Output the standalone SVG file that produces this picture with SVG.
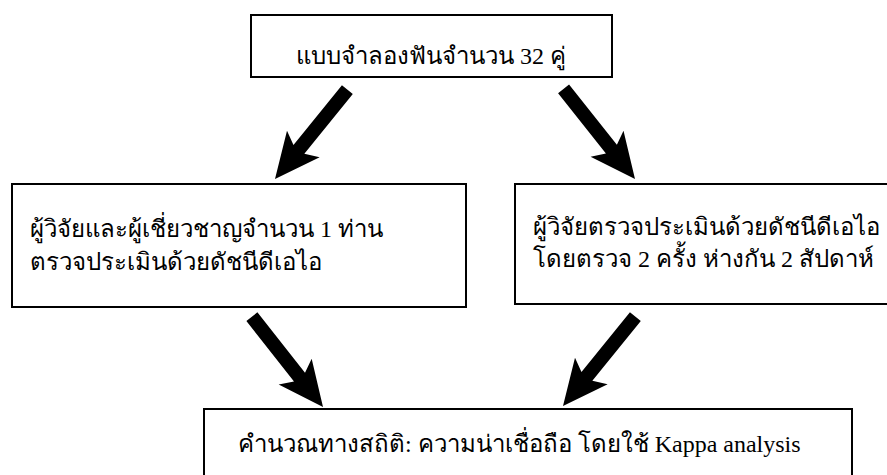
<svg xmlns="http://www.w3.org/2000/svg" xmlns:xlink="http://www.w3.org/1999/xlink" width="887" height="475" viewBox="0 0 887 475">
<style>
.box{fill:#fff;stroke:#000;stroke-width:2}
.t{font-family:"Liberation Serif","DejaVu Serif",serif;font-size:24px;fill:#000}
</style>
<defs>
<polygon id="arr" points="-115,-7 -38,-7 -45,-21 0,0 -45,21 -38,7 -115,7" fill="#000"/>
</defs>
<rect width="887" height="475" fill="#fff"/>
<g id="n1">
<rect class="box" x="251" y="15" width="361" height="62"/>
<text class="t" x="431" y="64" text-anchor="middle">แบบจำลองฟันจำนวน 32 คู่</text>
</g>
<g id="n2">
<rect class="box" x="12" y="184" width="454" height="123"/>
<text class="t" x="30" y="237">ผู้วิจัยและผู้เชี่ยวชาญจำนวน 1 ท่าน</text>
<text class="t" x="30" y="270">ตรวจประเมินด้วยดัชนีดีเอไอ</text>
</g>
<g id="n3">
<rect class="box" x="515" y="184" width="380" height="120"/>
<text class="t" x="533" y="235">ผู้วิจัยตรวจประเมินด้วยดัชนีดีเอไอ</text>
<text class="t" x="533" y="267">โดยตรวจ 2 ครั้ง ห่างกัน 2 สัปดาห์</text>
</g>
<g id="n4">
<rect class="box" x="204" y="409" width="648" height="80"/>
<text class="t" x="238" y="452">คำนวณทางสถิติ: ความน่าเชื่อถือ โดยใช้ Kappa analysis</text>
</g>
<g id="connectors">
<use xlink:href="#arr" transform="translate(275,179) rotate(129)"/>
<use xlink:href="#arr" transform="translate(635,179) rotate(51.6)"/>
<use xlink:href="#arr" transform="translate(323,407) rotate(51.8)"/>
<use xlink:href="#arr" transform="translate(563,406) rotate(129)"/>
</g>
</svg>
